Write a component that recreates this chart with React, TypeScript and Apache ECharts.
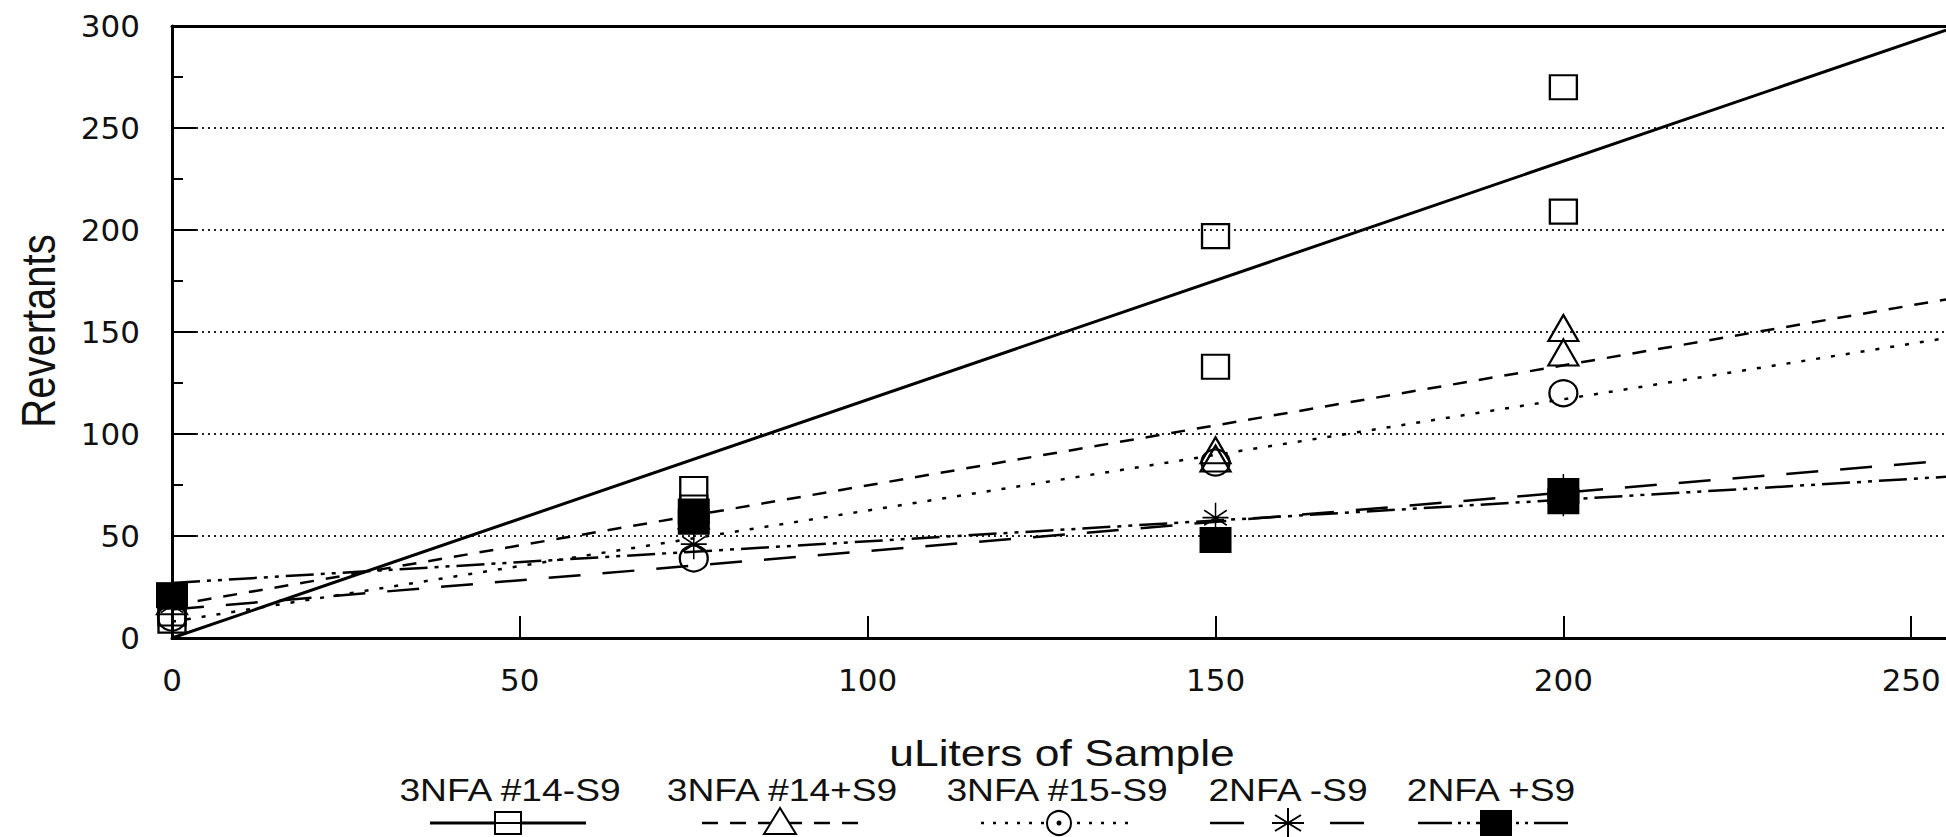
import React, { useEffect, useRef } from "react";
import * as echarts from "echarts";

// ---------- data ----------
const seriesNames = ["3NFA #14-S9", "3NFA #14+S9", "3NFA #15-S9", "2NFA -S9", "2NFA +S9"];

const pts14minus = [[0, 8.5], [0, 12], [75, 73], [75, 64], [150, 197], [150, 133], [200, 270], [200, 209]];
const pts14plus = [[0, 18], [75, 60], [150, 92], [150, 88], [200, 152], [200, 140]];
const pts15minus = [[0, 10], [75, 39], [150, 86], [200, 120]];
const pts2minus = [[0, 16], [75, 46], [150, 59], [200, 73], [200, 67]];
const pts2plus = [[0, 21], [75, 62], [75, 57], [150, 48], [200, 72], [200, 67]];

const fit14minus = [[0, 0], [255, 298]];
const fit14plus = [[0, 16], [255, 166]];
const fit15minus = [[0, 8], [255, 147]];
const fit2minus = [[0, 14], [255, 87]];
const fit2plus = [[0, 27], [255, 79]];

const xMin = 0;
const xMax = 255;
const xStep = 50;
const yMin = 0;
const yMax = 300;
const yStep = 50;

const xTitle = "uLiters of Sample";
const yTitle = "Revertants";

// ---------- styles ----------
const FONT = "'Liberation Sans', Arial, Helvetica, sans-serif";
const TICKFONT = "'DejaVu Sans', 'Liberation Sans', sans-serif";
const INK = "#000";
const TXT = "#111";

const dashes = {
  solid: "solid" as any,
  dashed: [14, 12],
  dotted: [4, 11],
  longDash: [32, 22],
  dashDotDot: [28, 7, 4, 7, 4, 7],
};

const asteriskPath = "path://M10 0 L10 20 M1.34 5 L18.66 15 M1.34 15 L18.66 5 M0 10 L20 10";

function buildOption() {
  const fitLine = (name: string, data: number[][], type: any, width: number) => ({
    name,
    type: "line",
    data,
    symbol: "none",
    showSymbol: false,
    silent: true,
    lineStyle: { color: INK, width, type },
    z: 2,
  });

  const hollow = { color: "rgba(255,255,255,0)", borderColor: INK, borderWidth: 2.2, opacity: 1 };

  const series: any[] = [
    fitLine(seriesNames[0], fit14minus, dashes.solid, 3),
    fitLine(seriesNames[1], fit14plus, dashes.dashed, 2.5),
    fitLine(seriesNames[2], fit15minus, dashes.dotted, 2.5),
    fitLine(seriesNames[3], fit2minus, dashes.longDash, 2.5),
    fitLine(seriesNames[4], fit2plus, dashes.dashDotDot, 2.5),
    {
      name: seriesNames[0], type: "scatter", data: pts14minus, symbol: "rect",
      symbolSize: [27, 24], itemStyle: hollow, z: 3,
    },
    {
      name: seriesNames[1], type: "scatter", data: pts14plus, symbol: "triangle",
      symbolSize: [30, 26], itemStyle: hollow, z: 3,
    },
    {
      name: seriesNames[2], type: "scatter", data: pts15minus, symbol: "circle",
      symbolSize: [28, 26], itemStyle: hollow, z: 3,
    },
    {
      name: seriesNames[3], type: "scatter", data: pts2minus, symbol: asteriskPath,
      symbolSize: [26, 30], itemStyle: { color: "rgba(0,0,0,0)", borderColor: INK, borderWidth: 1.6, opacity: 1 }, z: 3,
    },
    {
      name: seriesNames[4], type: "scatter", data: pts2plus, symbol: "rect",
      symbolSize: [32, 26], itemStyle: { color: INK, opacity: 1 }, z: 4,
    },
  ];

  // legend drawn as graphic (label above, line sample below)
  const legendTextX = [510, 782, 1057, 1288, 1491];
  const legendMarkX = [508, 780, 1059, 1288, 1496];
  const legendTextY = 790;
  const legendSymY = 823;
  const legendHalf = 78;
  const legendDash = [null, [16, 12], [3, 9], [34, 26], [34, 6, 3, 6, 3, 6]];

  const graphic: any[] = [
    {
      type: "text", x: 1062, y: 753, scaleX: 1.2,
      style: { text: xTitle, font: `37px ${FONT}`, fill: TXT, align: "center", verticalAlign: "middle" },
    },
    {
      type: "text", x: 38, y: 331, rotation: Math.PI / 2, scaleY: 1.2,
      style: { text: yTitle, font: `40px ${FONT}`, fill: TXT, align: "center", verticalAlign: "middle" },
    },
  ];

  seriesNames.forEach((name, i) => {
    graphic.push({
      type: "text", x: legendTextX[i], y: legendTextY, scaleX: 1.2,
      style: { text: name, font: `31px ${FONT}`, fill: TXT, align: "center", verticalAlign: "middle" },
    });
    const cx = legendMarkX[i];
    graphic.push({
      type: "line",
      shape: { x1: cx - legendHalf, y1: legendSymY, x2: cx + legendHalf, y2: legendSymY },
      style: { stroke: INK, lineWidth: i === 0 ? 3 : 2.5, lineDash: legendDash[i] || null },
    });
  });

  const sy = legendSymY;
  let cx = legendMarkX[0];
  graphic.push({ type: "rect", shape: { x: cx - 13, y: sy - 11, width: 26, height: 22 }, style: { fill: "#fff", stroke: INK, lineWidth: 2 } });
  graphic.push({ type: "line", shape: { x1: cx - 13, y1: sy, x2: cx + 13, y2: sy }, style: { stroke: INK, lineWidth: 2 } });
  cx = legendMarkX[1];
  graphic.push({ type: "polygon", shape: { points: [[cx, sy - 15], [cx - 16, sy + 11], [cx + 16, sy + 11]] }, style: { fill: "#fff", stroke: INK, lineWidth: 2 } });
  cx = legendMarkX[2];
  graphic.push({ type: "circle", shape: { cx, cy: sy, r: 12 }, style: { fill: "#fff", stroke: INK, lineWidth: 2 } });
  graphic.push({ type: "circle", shape: { cx, cy: sy, r: 2.5 }, style: { fill: INK } });
  cx = legendMarkX[3];
  graphic.push({ type: "rect", shape: { x: cx - 20, y: sy - 15, width: 40, height: 30 }, style: { fill: "#fff" } });
  [[0, -15, 0, 15], [-13, -8, 13, 8], [-13, 8, 13, -8], [-16, 0, 16, 0]].forEach((s) => {
    graphic.push({ type: "line", shape: { x1: cx + s[0], y1: sy + s[1], x2: cx + s[2], y2: sy + s[3] }, style: { stroke: INK, lineWidth: 2 } });
  });
  cx = legendMarkX[4];
  graphic.push({ type: "rect", shape: { x: cx - 16, y: sy - 13, width: 32, height: 26 }, style: { fill: INK } });

  return {
    animation: false,
    backgroundColor: "#fff",
    grid: { left: 172, right: 0, top: 26, bottom: 199, containLabel: false },
    xAxis: [
      {
        type: "value", min: xMin, max: xMax, interval: xStep,
        axisLine: { show: true, onZero: false, lineStyle: { color: INK, width: 3 } },
        axisTick: { show: true, inside: true, length: 22, lineStyle: { color: INK, width: 2 } },
        axisLabel: { show: true, showMaxLabel: false, margin: 26, color: TXT, fontSize: 31, fontFamily: TICKFONT },
        splitLine: { show: false },
      },
      {
        type: "value", position: "top", min: xMin, max: xMax, interval: xStep,
        axisLine: { show: true, onZero: false, lineStyle: { color: INK, width: 3 } },
        axisTick: { show: false }, axisLabel: { show: false }, splitLine: { show: false },
      },
    ],
    yAxis: {
      type: "value", min: yMin, max: yMax, interval: yStep,
      axisLine: { show: true, onZero: false, lineStyle: { color: INK, width: 3 } },
      axisTick: { show: true, inside: true, length: 24, lineStyle: { color: INK, width: 2 } },
      minorTick: { show: true, splitNumber: 2, length: 11, lineStyle: { color: INK, width: 2 } },
      axisLabel: { show: true, margin: 32, color: TXT, fontSize: 31, fontFamily: TICKFONT },
      splitLine: { show: true, lineStyle: { color: "#222", width: 1.8, type: [2, 4] } },
    },
    series,
    graphic,
  };
}

export default function App() {
  const ref = useRef<HTMLDivElement>(null);
  useEffect(() => {
    if (!ref.current) return;
    const chart = echarts.init(ref.current, null, { renderer: "svg" });
    chart.setOption(buildOption() as any);
    return () => chart.dispose();
  }, []);
  return (
    <div
      ref={ref}
      style={{ position: "fixed", left: 0, top: 0, width: 1946, height: 837, background: "#fff" }}
    />
  );
}
